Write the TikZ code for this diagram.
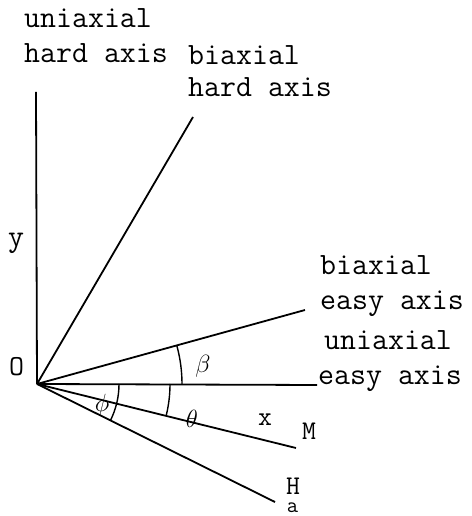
\documentclass[tikz,border=0pt]{standalone}
\begin{document}
\begin{tikzpicture}[x=1pt,y=1pt,
  axisline/.style={line width=1.8pt},
  anglearc/.style={line width=1.4pt},
  lbl/.style={inner sep=0pt,anchor=base west,font=\fontsize{31}{35}\selectfont\ttfamily},
  sym/.style={inner sep=0pt,font=\fontsize{27}{30}\selectfont\ttfamily},
  mathsym/.style={inner sep=0pt,font=\fontsize{29}{32}\selectfont}]
\useasboundingbox (0,0) rectangle (471,516);
\coordinate (O) at (37,132);
\coordinate (ytop) at (36,424);
\coordinate (bh) at (193,399);
\coordinate (be) at (305,206);
\coordinate (xe) at (317,131);
\coordinate (Me) at (296,68);
\coordinate (He) at (275,14);
\draw[axisline] (O) -- (ytop);
\draw[axisline] (O) -- (bh);
\draw[axisline] (O) -- (be);
\draw[axisline] (O) -- (xe);
\draw[axisline] (O) -- (Me);
\draw[axisline] (O) -- (He);
\draw[anglearc] ([shift={(0:145)}]O) arc[start angle=0,end angle=15.4,radius=145];
\draw[anglearc] ([shift={(-13.9:133)}]O) arc[start angle=-13.9,end angle=0,radius=133];
\draw[anglearc] ([shift={(-26.4:82)}]O) arc[start angle=-26.4,end angle=0,radius=82];
\node[lbl] (uh1) at (24,488) {uniaxial};
\node[lbl] (uh2) at (24,453) {hard axis};
\node[lbl] (bh1) at (188,451) {biaxial};
\node[lbl] (bh2) at (188,419) {hard axis};
\node[lbl] (be1) at (320,241) {biaxial};
\node[lbl] (be2) at (320,206) {easy axis};
\node[lbl] (ue1) at (324,166) {uniaxial};
\node[lbl] (ue2) at (318,131) {easy axis};
\node[lbl] (ylab) at (8,269) {y};
\node[lbl,font=\fontsize{29}{33}\selectfont\ttfamily] (Olab) at (9,140) {O};
\node[mathsym] (beta) at (203,150) {$\beta$};
\node[mathsym] (theta) at (192,97) {$\theta$};
\node[mathsym] (phi) at (102,111) {$\phi$};
\node[sym] (xlab) at (265,96) {x};
\node[sym,anchor=base west] (Mlab) at (302,76) {M};
\node[sym,anchor=base west] (Hlab) at (286,21) {H\llap{\raisebox{-17pt}{\fontsize{22}{24}\selectfont a}\hspace{2pt}}};
\end{tikzpicture}
\end{document}
